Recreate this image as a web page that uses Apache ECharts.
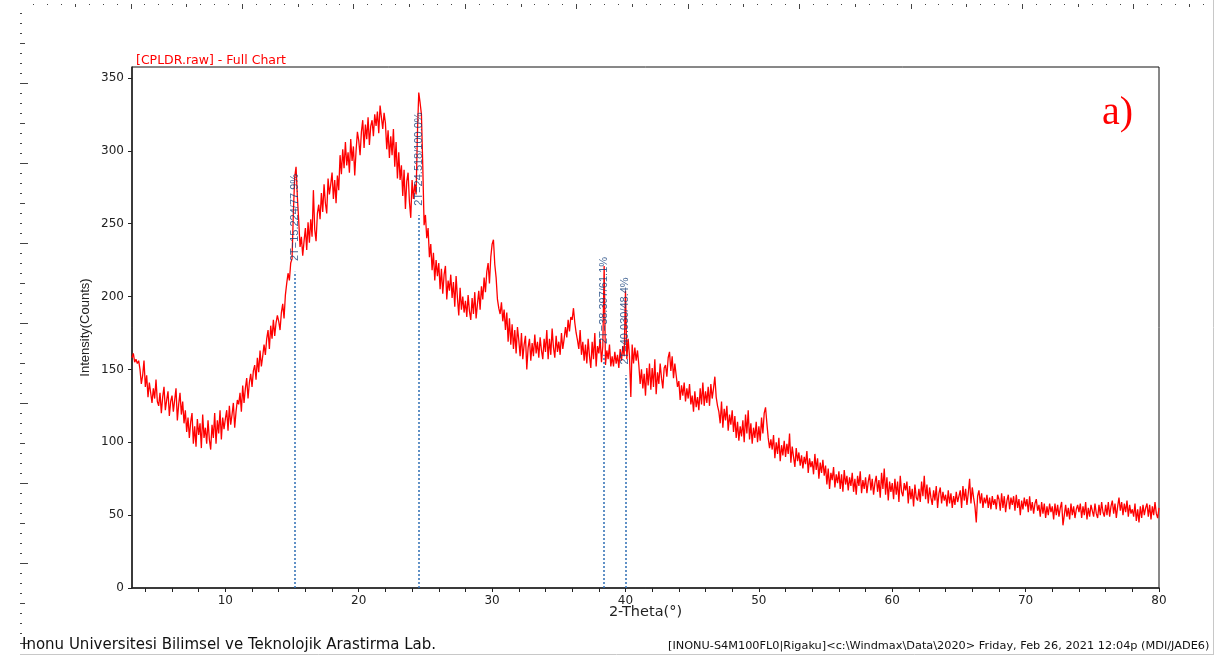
<!DOCTYPE html>
<html>
<head>
<meta charset="utf-8">
<script src="https://cdn.jsdelivr.net/npm/echarts@6/dist/echarts.min.js"></script>
<style>
html,body{margin:0;padding:0;background:#fff;}
#chart{width:1217px;height:662px;}
</style>
</head>
<body>
<div id="chart"></div>
<script>
// 2-Theta grid of the scan: starts at 3.0 deg, 0.1 deg per reading, ends at 80.0 deg
const thetaStart = 3.0;
const thetaStep = 0.1;

// Intensity (counts), one row per degree (readings at d.0 ... d.9)
const counts03to19 = [
  158,161,155,157,154,156,150,140,146,156, // 3
  138,146,131,141,134,127,137,130,143,128, // 4
  125,134,120,131,138,122,129,135,118,128, // 5
  132,121,129,137,115,126,134,119,128,113, // 6
  122,107,117,103,114,120,99,111,97,116,   // 7
  105,113,96,119,103,110,99,115,102,95,    // 8
  112,103,120,99,115,106,122,102,117,109,  // 9
  116,122,108,125,112,119,127,110,121,129, // 10
  126,134,121,139,127,137,144,130,141,147, // 11
  138,149,153,143,158,148,163,152,159,167, // 12
  160,171,177,164,180,171,184,173,182,187, // 13
  183,177,189,195,185,201,209,216,211,223, // 14
  226,258,282,289,268,252,234,241,228,238, // 15
  247,232,251,237,253,241,273,246,238,257, // 16
  263,253,271,258,277,264,257,281,270,277, // 17
  285,267,280,264,283,273,297,284,301,288, // 18
  306,290,299,285,308,293,303,283,300,313, // 19
];
const counts20to39 = [
  307,297,313,321,302,318,308,323,304,317, // 20
  321,310,325,317,327,312,331,323,315,326, // 21
  319,301,314,295,310,297,315,289,306,281, // 22
  299,280,290,269,287,260,279,285,265,254, // 23
  280,267,277,270,312,340,333,325,290,249, // 24
  256,240,247,227,236,218,230,211,225,214, // 25
  223,205,219,202,215,221,198,211,204,215, // 26
  199,210,193,214,199,187,206,191,200,189, // 27
  197,186,201,190,184,199,188,203,185,195, // 28
  204,191,207,198,213,203,217,223,209,227, // 29
  236,239,222,213,198,192,188,196,183,191, // 30
  177,189,169,185,167,181,164,177,161,179, // 31
  170,159,175,157,167,173,150,165,171,156, // 32
  168,159,174,161,169,158,172,163,157,171, // 33
  162,177,157,171,160,178,165,158,173,162, // 34
  169,160,175,164,171,179,172,184,176,186, // 35
  184,192,182,175,170,164,177,160,169,156, // 36
  167,154,171,159,151,169,157,175,152,166, // 37
  161,171,155,166,221,153,163,157,167,152, // 38
  159,152,162,154,160,151,164,156,166,159  // 39
];
const counts40to59 = [
  204,157,171,159,131,167,154,165,156,163, // 40
  153,140,150,137,147,132,151,139,154,136, // 41
  151,138,157,133,148,140,154,144,137,151, // 42
  153,145,158,162,149,159,144,154,146,138, // 43
  142,129,139,132,141,128,137,130,140,126, // 44
  132,121,135,124,131,122,137,126,141,125, // 45
  135,127,138,125,140,130,137,145,131,125, // 46
  121,113,128,110,123,115,125,108,119,112, // 47
  122,107,118,103,114,101,111,104,115,100, // 48
  119,106,122,102,113,99,110,103,114,100,  // 49
  111,101,117,106,120,124,113,103,96,102,  // 50
  95,105,89,100,92,103,87,98,91,101,       // 51
  90,99,92,106,86,97,90,83,96,87,          // 52
  93,84,91,82,90,85,94,79,89,83,           // 53
  87,78,92,81,89,75,86,79,88,77,           // 54
  84,71,82,68,79,74,83,69,78,72,           // 55
  80,68,78,66,81,71,77,67,76,70,           // 56
  79,66,75,64,77,70,80,65,74,68,           // 57
  76,65,73,78,67,75,64,72,77,66,           // 58
  74,62,79,68,82,64,76,60,73,66            // 59
];
const counts60to80 = [
  72,61,75,64,73,59,77,66,63,72, // 60
  67,73,58,70,61,68,56,71,62,60, // 61
  68,59,73,63,77,61,71,58,69,62, // 62
  57,67,60,70,55,65,69,58,66,60, // 63
  64,56,67,58,65,55,63,57,66,59, // 64
  58,67,55,70,60,68,57,65,75,58, // 65
  69,62,56,45,63,67,58,65,55,62, // 66
  58,64,55,62,54,63,57,61,54,64, // 67
  61,53,65,55,63,52,60,64,54,62, // 68
  57,63,53,64,55,61,50,60,54,62, // 69
  56,61,52,63,53,59,51,58,61,53, // 70
  57,49,59,51,58,48,56,50,58,52, // 71
  56,47,58,50,57,49,55,59,43,50, // 72
  57,49,55,47,58,50,56,48,54,57, // 73
  52,58,48,56,50,59,47,55,49,57, // 74
  56,49,58,51,48,57,50,59,52,49, // 75
  57,50,59,49,56,60,51,58,48,56, // 76
  62,53,59,50,58,52,60,49,57,51, // 77
  54,49,58,46,54,45,56,48,57,50, // 78
  55,58,49,57,47,56,50,59,51,48, // 79
  55                             // 80.0
];

// Peak-search results (2-Theta, relative intensity %)
const peakTheta = [15.224, 24.518, 38.397, 40.030];
const peakRel = [77.9, 100.0, 61.1, 48.4];
// Height (counts) where each dotted marker stops and where its label begins
const markerTop = [217, 256, 160, 146];
const labelBase = [224, 262, 167, 153];

// Axis ticks
const xTicks = [4,6,8,10,12,14,16,18,20,22,24,26,28,30,32,34,36,38,40,42,44,46,48,50,52,54,56,58,60,62,64,66,68,70,72,74,76,78,80];
const xLabels = [10,20,30,40,50,60,70,80];
const yTicks = [0,50,100,150,200,250,300,350];

const allCounts = counts03to19.concat(counts20to39, counts40to59, counts60to80);
const series = allCounts.map((c, i) => [+(thetaStart + i * thetaStep).toFixed(2), c]);

const peakPoints = peakTheta.map((t, i) => ({
  value: [t, labelBase[i]],
  label: { formatter: '2T=' + t.toFixed(3) + '/' + peakRel[i].toFixed(1) + '%' }
}));
const markerLines = peakTheta.map((t, i) => [{ coord: [t, 0] }, { coord: [t, markerTop[i]] }]);

const WIDE = '"DejaVu Sans", Verdana, sans-serif';
const ARIAL = '"Liberation Sans", Arial, sans-serif';

// page decorations (rulers, frame lines)
const deco = [];
for (let k = 0; k < 85; k++) {
  const x = 33 + k * 13.93;
  if (x > 1210) break;
  const m = k % 8;
  const h = (m === 7) ? 5 : (m === 3 ? 3 : 1);
  deco.push({ type: 'rect', shape: { x: Math.round(x), y: 4, width: 1, height: h }, style: { fill: '#444' }, silent: true });
}
for (let k = 0; k < 70; k++) {
  const y = 13 + k * 10;
  if (y > 650) break;
  const m = k % 8;
  const w = (m === 7) ? 8 : (m === 3 ? 5 : 2);
  deco.push({ type: 'rect', shape: { x: 20, y: y, width: w, height: 1 }, style: { fill: '#444' }, silent: true });
}
deco.push({ type: 'line', shape: { x1: 20, y1: 654.5, x2: 1213, y2: 654.5 }, style: { stroke: '#c8c8c8', lineWidth: 1 }, silent: true });
deco.push({ type: 'line', shape: { x1: 1213.5, y1: 0, x2: 1213.5, y2: 655 }, style: { stroke: '#c8c8c8', lineWidth: 1 }, silent: true });
deco.push({ type: 'text', left: 1102, top: 93, style: { text: 'a)', fill: '#ff0000', font: '40px "Liberation Serif", serif' }, silent: true });
deco.push({ type: 'text', left: 136, top: 54, style: { text: '[CPLDR.raw] - Full Chart', fill: '#ff0000', font: '12.5px ' + WIDE }, silent: true });
deco.push({ type: 'text', left: 22, top: 638, style: { text: 'Inonu Universitesi Bilimsel ve Teknolojik Arastirma Lab.', fill: '#111', font: '15px ' + WIDE }, silent: true });
deco.push({ type: 'text', left: 668, top: 641, style: { text: '[INONU-S4M100FL0|Rigaku]<c:\\Windmax\\Data\\2020> Friday, Feb 26, 2021 12:04p (MDI/JADE6)', fill: '#111', font: '11.3px ' + WIDE }, silent: true });

const chart = echarts.init(document.getElementById('chart'), null, { renderer: 'canvas' });
chart.setOption({
  animation: false,
  backgroundColor: '#ffffff',
  textStyle: { fontFamily: ARIAL },
  grid: { left: 132, right: 58, top: 67, bottom: 74, show: true, borderColor: '#111', borderWidth: 1, backgroundColor: 'transparent' },
  xAxis: {
    type: 'value', min: 3, max: 80,
    name: '2-Theta(°)', nameLocation: 'middle', nameGap: 17, nameMoveOverlap: false,
    nameTextStyle: { fontSize: 14.5, color: '#222', fontFamily: WIDE },
    axisLine: { show: true, onZero: false, lineStyle: { color: '#222', width: 1.5 } },
    axisTick: { show: true, inside: false, length: 4, customValues: xTicks, lineStyle: { color: '#222' } },
    axisLabel: { show: true, margin: 7, fontSize: 12, color: '#222', fontFamily: WIDE, customValues: xLabels },
    splitLine: { show: false }
  },
  yAxis: {
    type: 'value', min: 0, max: 357.5,
    name: 'Intensity(Counts)', nameLocation: 'middle', nameGap: 40, nameMoveOverlap: false,
    nameTextStyle: { fontSize: 13, color: '#222' },
    axisLine: { show: true, lineStyle: { color: '#222', width: 1.5 } },
    axisTick: { show: true, inside: false, length: 4, customValues: yTicks, lineStyle: { color: '#222' } },
    axisLabel: { show: true, margin: 8, fontSize: 12, color: '#222', fontFamily: WIDE, customValues: yTicks },
    splitLine: { show: false }
  },
  series: [
    {
      type: 'line', data: series, showSymbol: false, symbol: 'none',
      lineStyle: { color: '#ff0000', width: 1.3 }, silent: true, z: 2
    },
    {
      type: 'scatter', data: peakPoints, symbolSize: 1,
      itemStyle: { color: 'rgba(0,0,0,0)' }, silent: true, z: 3,
      label: {
        show: true, position: [0, 0], rotate: 90, align: 'left', verticalAlign: 'middle',
        color: '#143f7a', fontSize: 11, fontFamily: ARIAL
      },
      markLine: {
        silent: true, symbol: ['none', 'none'], animation: false,
        lineStyle: { color: '#2e6db4', width: 1.5, type: [2, 2] },
        label: { show: false },
        emphasis: { disabled: true },
        data: markerLines
      }
    }
  ],
  graphic: deco
});
</script>
</body>
</html>
